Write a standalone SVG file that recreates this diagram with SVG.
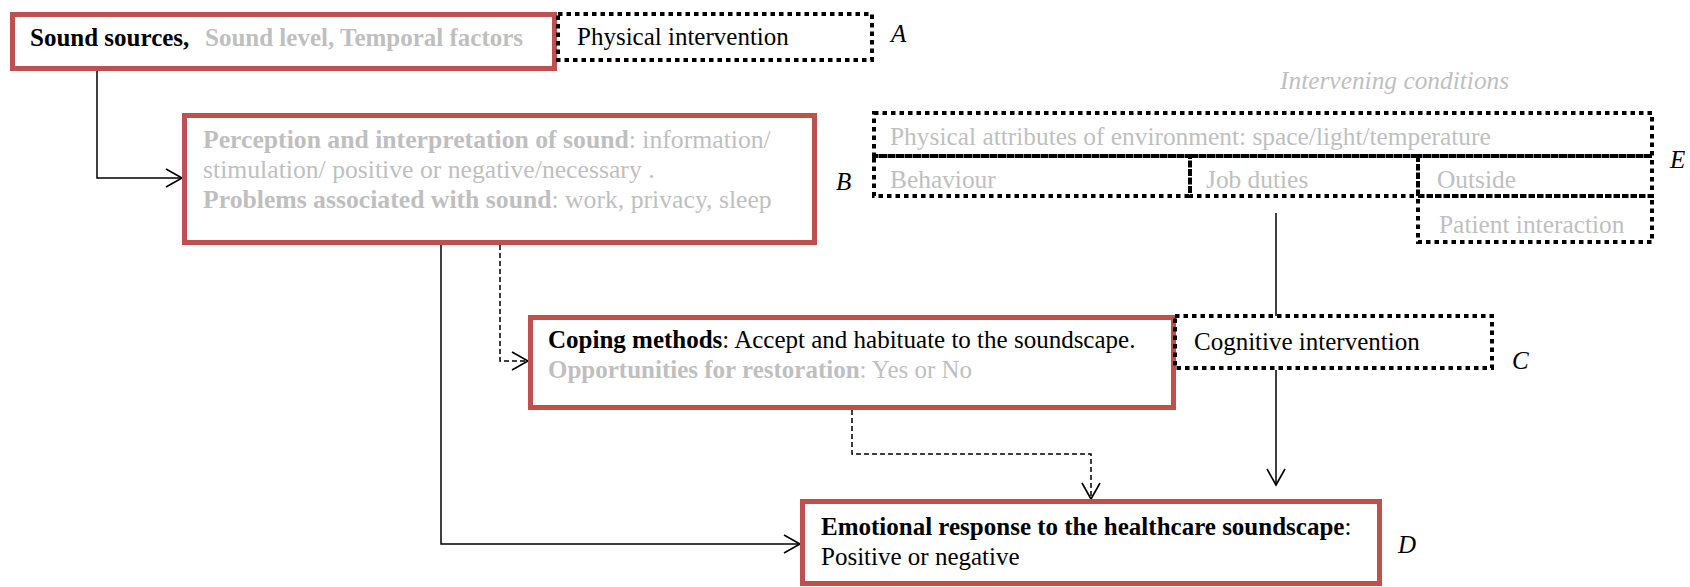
<svg xmlns="http://www.w3.org/2000/svg" width="1690" height="587" viewBox="0 0 1690 587">
  <style>
    text { font-family: "Liberation Serif", "Times New Roman", serif; font-size: 25px; fill: #000; }
    .b { font-weight: bold; }
    .g { fill: #BFBFBF; }
    .it { font-style: italic; }
    .big { font-size: 25.7px; }
    .env { font-size: 25.4px; }
    .stage { fill: #fff; stroke: #C0504D; stroke-width: 5; }
    .dot { fill: none; stroke: #000; stroke-width: 4; stroke-dasharray: 4.5 4; }
    .link { fill: none; stroke: #000; stroke-width: 1.5; }
    .dash { stroke-dasharray: 5 3; }
  </style>
  <defs>
    <marker id="open" viewBox="-18 -11 20 22" refX="0" refY="0" markerWidth="20" markerHeight="22" markerUnits="userSpaceOnUse" orient="auto">
      <path d="M-16,-9 L0,0 L-16,9" fill="none" stroke="#000" stroke-width="1.6"/>
    </marker>
  </defs>

  <!-- connectors -->
  <g id="connectors">
    <path class="link" d="M97,71 V178 H182" marker-end="url(#open)"/>
    <path class="link" d="M441,245 V544 H800" marker-end="url(#open)"/>
    <path class="link dash" d="M500,245 V361 H528" marker-end="url(#open)"/>
    <path class="link dash" d="M852,410 V454 H1091 V499" marker-end="url(#open)"/>
    <path class="link" d="M1276,213 V316"/>
    <path class="link" d="M1276,370 V485" marker-end="url(#open)"/>
  </g>

  <!-- A: sound sources + physical intervention -->
  <g id="node-sources">
    <rect class="stage" x="12.5" y="14.5" width="542" height="54"/>
    <text x="30" y="46"><tspan class="b">Sound sources,</tspan><tspan class="b g" x="205">Sound level, Temporal factors</tspan></text>
  </g>
  <g id="node-physical">
    <rect class="dot" x="558" y="14" width="314" height="46"/>
    <text x="577" y="45">Physical intervention</text>
    <text class="it" x="891" y="42">A</text>
  </g>

  <!-- B: perception -->
  <g id="node-perception">
    <rect class="stage" x="184.5" y="115.5" width="630" height="127"/>
    <text class="g big" x="203" y="148"><tspan class="b g">Perception and interpretation of sound</tspan>: information/</text>
    <text class="g big" x="203" y="178">stimulation/ positive or negative/necessary .</text>
    <text class="g big" x="203" y="208"><tspan class="b g">Problems associated with sound</tspan>: work, privacy, sleep</text>
    <text class="it" x="836" y="190">B</text>
  </g>

  <!-- E: intervening conditions -->
  <g id="node-conditions">
    <text class="it g env" x="1280" y="89">Intervening conditions</text>
    <rect class="dot" x="874" y="113" width="778" height="43"/>
    <text class="g env" x="890" y="145">Physical attributes of environment: space/light/temperature</text>
    <rect class="dot" x="874" y="156" width="316" height="40"/>
    <text class="g env" x="890" y="188">Behaviour</text>
    <rect class="dot" x="1190" y="156" width="228" height="40"/>
    <text class="g env" x="1206" y="188">Job duties</text>
    <rect class="dot" x="1418" y="156" width="234" height="40"/>
    <text class="g env" x="1437" y="188">Outside</text>
    <rect class="dot" x="1418" y="196" width="234" height="46"/>
    <text class="g env" x="1439" y="233">Patient interaction</text>
    <text class="it" x="1670" y="168">E</text>
  </g>

  <!-- C: coping + cognitive intervention -->
  <g id="node-coping">
    <rect class="stage" x="530.5" y="317.5" width="643" height="90"/>
    <text x="548" y="348"><tspan class="b">Coping methods</tspan>: Accept and habituate to the soundscape.</text>
    <text class="g" x="548" y="378"><tspan class="b g">Opportunities for restoration</tspan>: Yes or No</text>
  </g>
  <g id="node-cognitive">
    <rect class="dot" x="1175" y="316" width="317" height="52"/>
    <text x="1194" y="350">Cognitive intervention</text>
    <text class="it" x="1512" y="369">C</text>
  </g>

  <!-- D: emotional response -->
  <g id="node-emotion">
    <rect class="stage" x="802.5" y="501.5" width="577" height="82"/>
    <text x="821" y="535"><tspan class="b">Emotional response to the healthcare soundscape</tspan>:</text>
    <text x="821" y="565">Positive or negative</text>
    <text class="it" x="1398" y="553">D</text>
  </g>
</svg>
